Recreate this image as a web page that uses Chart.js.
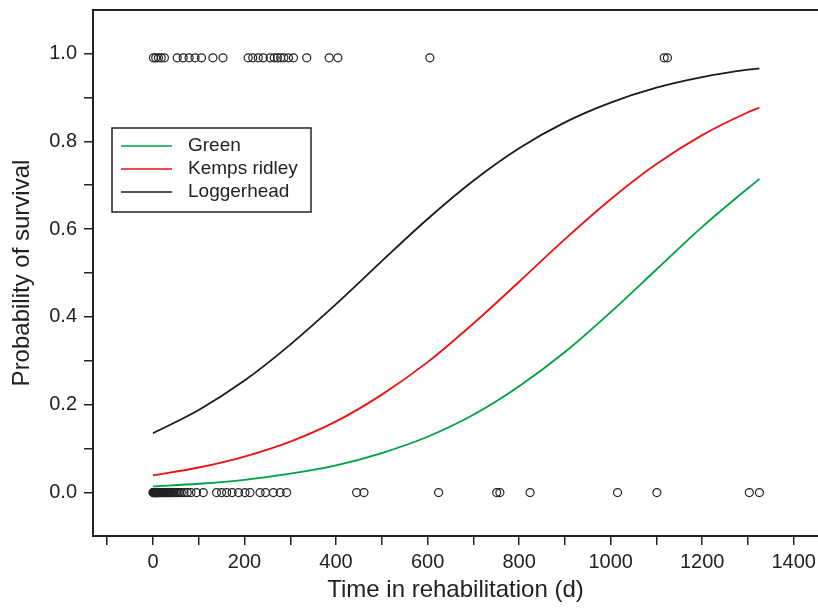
<!DOCTYPE html>
<html>
<head>
<meta charset="utf-8">
<script src="https://cdn.jsdelivr.net/npm/chart.js@4.4.0/dist/chart.umd.min.js"></script>
<style>html,body{margin:0;padding:0;background:#fff}</style>
</head>
<body>
<canvas id="chart" width="818" height="608"></canvas>
<script>
// Fitted survival curves, every 100 days
const curveDays = [0, 100, 200, 300, 400, 500, 600, 700, 800, 900, 1000, 1100, 1200, 1300, 1325];
const greenSurvival = [0.014, 0.020, 0.029, 0.043, 0.062, 0.090, 0.127, 0.177, 0.242, 0.320, 0.411, 0.508, 0.605, 0.693, 0.714];
const kempsSurvival = [0.039, 0.057, 0.082, 0.116, 0.162, 0.223, 0.297, 0.385, 0.480, 0.577, 0.668, 0.748, 0.814, 0.866, 0.877];
const loggerSurvival = [0.135, 0.188, 0.255, 0.337, 0.429, 0.527, 0.623, 0.710, 0.784, 0.843, 0.888, 0.922, 0.946, 0.963, 0.966];

const curveNames = ['Green', 'Kemps ridley', 'Loggerhead'];
const curveColors = ['#00a040', '#ee1111', '#1a1a1a'];

// Individual turtles: days in rehab for survivors (drawn near 1) and deaths (at 0)
const survivedDays = [1, 6, 12, 18, 25, 53, 66, 79, 92, 106, 131, 153, 208, 218, 230, 241, 256, 265, 272, 279, 286, 296, 307, 336, 385, 404, 605, 1117, 1124];
const survivedLevel = 0.99;
const diedDays = [0, 1, 2, 3, 4, 5, 6, 7, 8, 9, 10, 11, 12, 14, 16, 18, 20, 22, 24, 26, 28, 30, 32, 34, 36, 38, 40,
  43, 46, 49, 52, 55, 58, 62, 68, 75, 83, 95, 110, 139, 150, 161, 173, 187, 201, 212,
  234, 246, 263, 278, 292, 445, 461, 624, 751, 758, 824, 1015, 1101, 1303, 1325];
const diedLevel = 0;

const xTicks = [-100, 0, 100, 200, 300, 400, 500, 600, 700, 800, 900, 1000, 1100, 1200, 1300, 1400];
const yTicks = [0, 0.1, 0.2, 0.3, 0.4, 0.5, 0.6, 0.7, 0.8, 0.9, 1.0];

const fontFamily = '"Liberation Sans", Arial, sans-serif';
const ink = '#222';

const toPoints = (xs, ys) => xs.map((x, i) => ({ x: x, y: ys[i] }));
const flat = (xs, level) => xs.map(x => ({ x: x, y: level }));

const curveSets = [greenSurvival, kempsSurvival, loggerSurvival].map((ys, i) => ({
  label: curveNames[i],
  data: toPoints(curveDays, ys),
  showLine: true,
  borderColor: curveColors[i],
  borderWidth: 1.8,
  pointRadius: 0,
  cubicInterpolationMode: 'monotone',
  fill: false
}));

const circleStyle = {
  showLine: false,
  pointStyle: 'circle',
  pointRadius: 4,
  pointBackgroundColor: 'rgba(0,0,0,0)',
  pointBorderColor: '#222',
  pointBorderWidth: 1.2
};

// frame round the plot: left, top and bottom (right side runs off the canvas)
const frame = {
  id: 'frame',
  afterDraw(chart) {
    const { ctx, chartArea: a } = chart;
    ctx.save();
    ctx.strokeStyle = ink;
    ctx.lineWidth = 2;
    ctx.beginPath();
    ctx.moveTo(a.right + 2, a.top);
    ctx.lineTo(a.left, a.top);
    ctx.lineTo(a.left, a.bottom);
    ctx.lineTo(a.right + 2, a.bottom);
    ctx.stroke();
    ctx.restore();
  }
};

// boxed legend inside the plot, top left
const boxLegend = {
  id: 'boxLegend',
  afterDatasetsDraw(chart) {
    const { ctx, chartArea: a } = chart;
    ctx.save();
    ctx.strokeStyle = ink;
    ctx.lineWidth = 1.5;
    ctx.strokeRect(a.left + 19, a.top + 118, 199, 84);
    ctx.font = '19px ' + fontFamily;
    ctx.textBaseline = 'middle';
    ctx.fillStyle = ink;
    curveNames.forEach((name, i) => {
      const y = a.top + 136 + i * 23;
      ctx.strokeStyle = curveColors[i];
      ctx.lineWidth = 1.5;
      ctx.beginPath();
      ctx.moveTo(a.left + 28, y);
      ctx.lineTo(a.left + 79, y);
      ctx.stroke();
      ctx.fillText(name, a.left + 95, y);
    });
    ctx.restore();
  }
};

new Chart(document.getElementById('chart').getContext('2d'), {
  type: 'scatter',
  data: {
    datasets: [
      ...curveSets,
      Object.assign({ label: 'survived', data: flat(survivedDays, survivedLevel) }, circleStyle),
      Object.assign({ label: 'died', data: flat(diedDays, diedLevel) }, circleStyle)
    ]
  },
  options: {
    responsive: false,
    animation: false,
    layout: { autoPadding: false, padding: { top: 10, right: 0, left: 0, bottom: 0 } },
    plugins: {
      legend: { display: false },
      tooltip: { enabled: false }
    },
    scales: {
      x: {
        type: 'linear',
        min: -131,
        max: 1453,
        afterBuildTicks: s => { s.ticks = xTicks.map(v => ({ value: v })); },
        afterFit: s => { s.height = 72; s.paddingLeft = 0; s.paddingRight = 0; },
        ticks: {
          autoSkip: false,
          maxRotation: 0,
          padding: 5,
          color: ink,
          font: { family: fontFamily, size: 20 },
          callback: v => (v >= 0 && v % 200 === 0 ? String(v) : '')
        },
        grid: { drawOnChartArea: false, drawTicks: true, tickLength: 9, color: ink, lineWidth: 1.5 },
        border: { display: false },
        title: {
          display: true,
          text: 'Time in rehabilitation (d)',
          color: ink,
          font: { family: fontFamily, size: 24, lineHeight: 1.2 },
          padding: { top: 0, bottom: 3 }
        }
      },
      y: {
        type: 'linear',
        min: -0.099,
        max: 1.099,
        afterBuildTicks: s => { s.ticks = yTicks.map(v => ({ value: v })); },
        afterFit: s => { s.width = 93; s.paddingTop = 0; s.paddingBottom = 0; },
        ticks: {
          autoSkip: false,
          padding: 7,
          color: ink,
          font: { family: fontFamily, size: 20 },
          callback: v => (Math.round(v * 10) % 2 === 0 ? v.toFixed(1) : '')
        },
        grid: { drawOnChartArea: false, drawTicks: true, tickLength: 9, color: ink, lineWidth: 1.5 },
        border: { display: false },
        title: {
          display: true,
          text: 'Probability of survival',
          color: ink,
          font: { family: fontFamily, size: 24, lineHeight: 1.2 },
          padding: { top: 8, bottom: 0 }
        }
      }
    }
  },
  plugins: [frame, boxLegend]
});
</script>
</body>
</html>
